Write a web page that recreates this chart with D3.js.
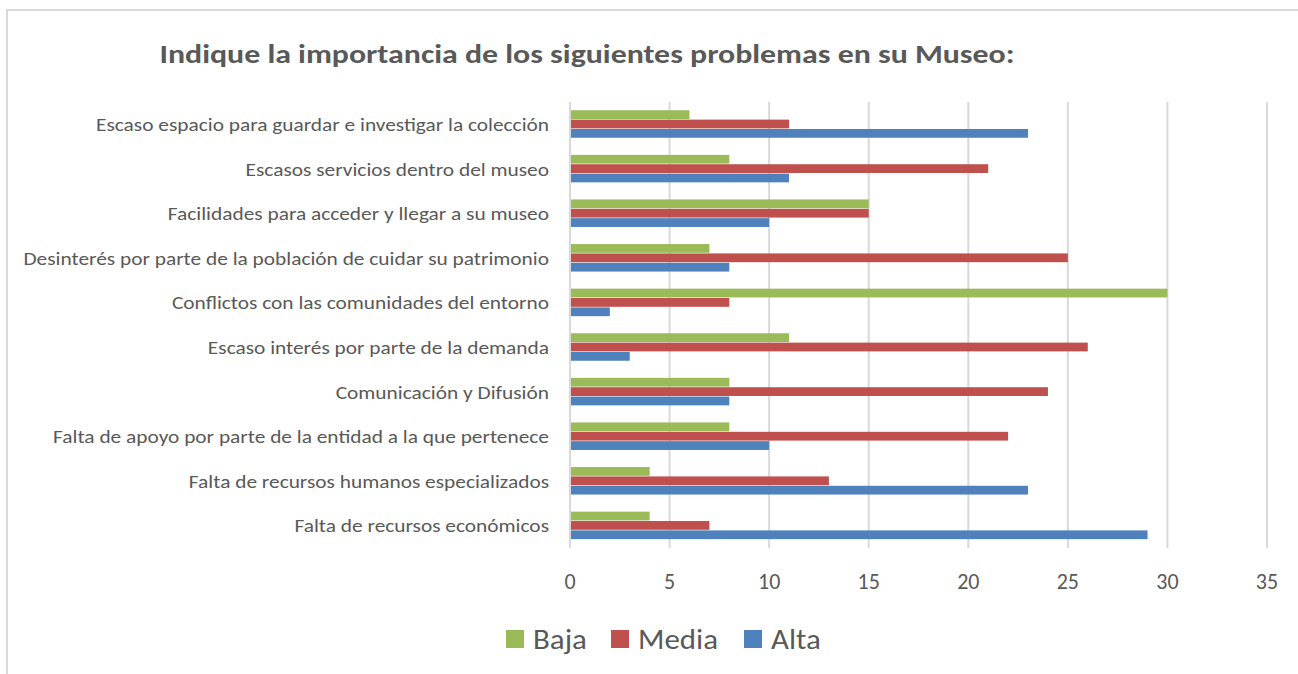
<!DOCTYPE html>
<html>
<head>
<meta charset="utf-8">
<script src="https://cdn.jsdelivr.net/npm/d3@7"></script>
<style>
  body { margin: 0; background: #fff; }
  svg text { font-family: Carlito, "Open Sans", Lato, sans-serif; fill: #595959; }
</style>
</head>
<body>
<div id="chart"></div>
<script>
var categories = [
  "Escaso espacio para guardar e investigar la colección",
  "Escasos servicios dentro del museo",
  "Facilidades para acceder y llegar a su museo",
  "Desinterés por parte de la población de cuidar su patrimonio",
  "Conflictos con las comunidades del entorno",
  "Escaso interés por parte de la demanda",
  "Comunicación y Difusión",
  "Falta de apoyo por parte de la entidad a la que pertenece",
  "Falta de recursos humanos especializados",
  "Falta de recursos económicos"
];
var seriesNames = ["Baja", "Media", "Alta"];
var baja  = [6, 8, 15, 7, 30, 11, 8, 8, 4, 4];
var media = [11, 21, 15, 25, 8, 26, 24, 22, 13, 7];
var alta  = [23, 11, 10, 8, 2, 3, 8, 10, 23, 29];
var xTicks = [0, 5, 10, 15, 20, 25, 30, 35];
var colors = ["#9bbb59", "#c0504d", "#4f81bd"];

var seriesValues = [baja, media, alta];
var width = 1298, height = 674;

var svg = d3.select("#chart").append("svg")
    .attr("width", width)
    .attr("height", height);

// stretch a set of texts so that one reference string gets the wanted width
function fitWidth(sel, refIndex, target) {
  var nodes = sel.nodes();
  var k = target / nodes[refIndex].getComputedTextLength();
  nodes.forEach(function(n) {
    n.setAttribute("textLength", n.getComputedTextLength() * k);
    n.setAttribute("lengthAdjust", "spacingAndGlyphs");
  });
}

// outer frame
svg.append("rect")
    .attr("x", 7).attr("y", 10)
    .attr("width", 1400).attr("height", 800)
    .attr("fill", "none")
    .attr("stroke", "#d9d9d9")
    .attr("stroke-width", 2);

// title
var title = svg.append("text")
    .attr("x", 587).attr("y", 63)
    .attr("text-anchor", "middle")
    .attr("font-size", 27)
    .attr("font-weight", "bold")
    .text("Indique la importancia de los siguientes problemas en su Museo:");
fitWidth(title, 0, 855);

var x = d3.scaleLinear().domain([0, 35]).range([570, 1267]);
var y = d3.scaleBand().domain(categories).range([102, 548])
    .paddingInner(0.37).paddingOuter(0.185);
var ySub = d3.scaleBand().domain(seriesNames).range([0, y.bandwidth()]);

// gridlines
svg.append("g").selectAll("line")
    .data(xTicks)
    .join("line")
    .attr("x1", function(d) { return x(d); })
    .attr("x2", function(d) { return x(d); })
    .attr("y1", 102).attr("y2", 548)
    .attr("stroke", "#d9d9d9")
    .attr("stroke-width", 2);

// tick labels
var ticks = svg.append("g").selectAll("text")
    .data(xTicks)
    .join("text")
    .attr("x", function(d) { return x(d); })
    .attr("y", 589)
    .attr("text-anchor", "middle")
    .attr("font-size", 22)
    .text(function(d) { return d; });

// category labels
var labels = svg.append("g").selectAll("text")
    .data(categories)
    .join("text")
    .attr("x", 549)
    .attr("y", function(d) { return y(d) + y.bandwidth() / 2; })
    .attr("dy", "0.35em")
    .attr("text-anchor", "end")
    .attr("font-size", 19)
    .text(function(d) { return d; });
fitWidth(labels, 0, 453);

// bars
var groups = svg.append("g").selectAll("g")
    .data(categories)
    .join("g")
    .attr("transform", function(d) { return "translate(0," + y(d) + ")"; });

groups.selectAll("rect")
    .data(function(d, i) {
      return seriesNames.map(function(s, k) {
        return { series: s, k: k, value: seriesValues[k][i] };
      });
    })
    .join("rect")
    .attr("x", x(0) + 1)
    .attr("y", function(d) { return ySub(d.series); })
    .attr("width", function(d) { return x(d.value) - x(0) - 1; })
    .attr("height", ySub.bandwidth() - 0.6)
    .attr("fill", function(d) { return colors[d.k]; });

// legend
var legendX = [506, 611, 744];
var legend = svg.append("g").selectAll("g")
    .data(seriesNames)
    .join("g")
    .attr("transform", function(d, i) { return "translate(" + legendX[i] + ",630)"; });

legend.append("rect")
    .attr("width", 18).attr("height", 18)
    .attr("fill", function(d, i) { return colors[i]; });

var legendText = legend.append("text")
    .attr("x", 27).attr("y", 9)
    .attr("dy", "0.36em")
    .attr("font-size", 28)
    .text(function(d) { return d; });
fitWidth(legendText, 1, 80);
</script>
</body>
</html>
